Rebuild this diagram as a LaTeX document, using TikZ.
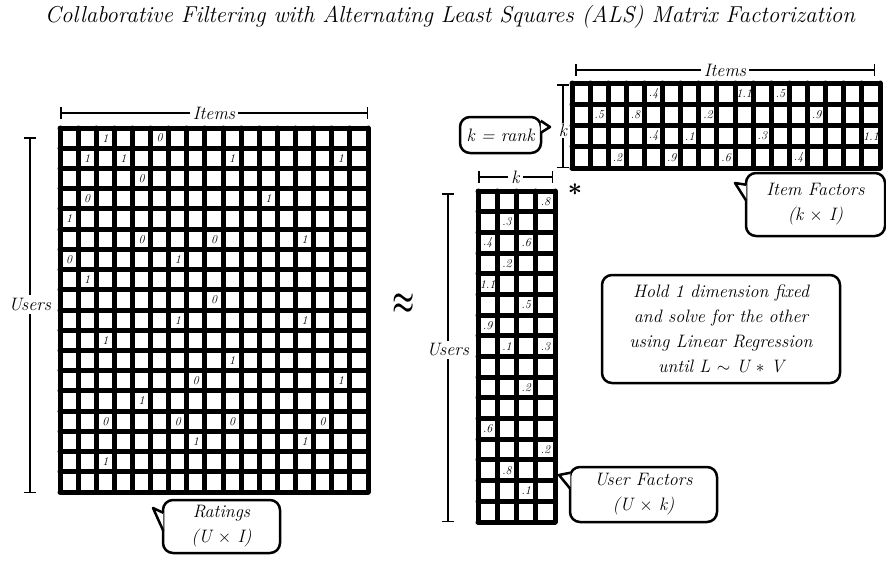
\documentclass[tikz,border=0pt]{standalone}
\usepackage{amsfonts,amssymb,amsmath}
\usepackage{xcolor}
\usepackage{tikz}
\usetikzlibrary{arrows.meta}

\begin{document}
\begin{tikzpicture}[x=1pt,y=-1pt,
  cellline/.style={line width=5pt,line cap=round},
  cellval/.style={inner sep=0pt,font=\fontsize{12}{13}\selectfont\itshape},
  dimline/.style={line width=1.5pt,{Bar[width=12pt]}-{Bar[width=12pt]}},
  dimlabel/.style={fill=white,inner sep=3pt,font=\fontsize{18}{20}\selectfont\itshape},
  note/.style={draw,line width=2.5pt,rounded corners=10pt,fill=white,align=center,inner sep=0pt,font=\fontsize{18}{25}\selectfont\itshape},
  notetip/.style={line width=2.5pt,line join=round,fill=white}]
\useasboundingbox (0,0) rectangle (886,565);
\node[font=\fontsize{23}{26}\selectfont\itshape] (title) at (450,17) {Collaborative Filtering with Alternating Least Squares (ALS) Matrix Factorization};

% ratings matrix (U x I)
\foreach \i in {0,...,17} \draw[cellline] ({60+\i*308/17},128) -- ++(0,364);
\foreach \j in {0,...,18} \draw[cellline] (60,{128+\j*364/18}) -- ++(308,0);
\foreach \r/\c/\v in {1/3/1,1/6/0,2/2/1,2/4/1,2/10/1,2/16/1,3/5/0,4/2/0,4/12/1,5/1/1,
  6/5/0,6/9/0,6/14/1,7/1/0,7/7/1,8/2/1,9/9/0,10/7/1,10/14/1,11/3/1,12/10/1,13/8/0,13/16/1,
  14/5/1,15/3/0,15/7/0,15/10/0,15/15/0,16/8/1,16/14/1,17/3/1}
  \node[cellval] (rt\r-\c) at ({60+(\c-0.5)*308/17},{128+(\r-0.5)*364/18}) {\v};
\draw[dimline] (60,113) -- node[dimlabel] (rtitems) {Items} (368,113);
\draw[dimline] (30,137) -- node[dimlabel,pos=0.47] (rtusers) {Users} (30,493);

\node (approx) at (404,304) {\fontsize{34}{34}\selectfont\scalebox{1}[1.5]{$\boldsymbol{\approx}$}};

% item factors (k x I)
\foreach \i in {0,...,17} \draw[cellline] ({572+\i*308/17},83) -- ++(0,85);
\foreach \j in {0,...,4} \draw[cellline] (572,{83+\j*85/4}) -- ++(308,0);
\foreach \r/\c/\v in {1/5/.4,1/10/1.1,1/12/.5,2/2/.5,2/4/.8,2/8/.2,2/14/.9,
  3/5/.4,3/7/.1,3/11/.3,3/17/1.1,4/3/.2,4/6/.9,4/9/.6,4/13/.4}
  \node[cellval] (if\r-\c) at ({572+(\c-0.5)*308/17},{83+(\r-0.5)*85/4}) {\v};
\draw[dimline] (575,70) -- node[dimlabel] (ifitems) {Items} (875,70);
\draw[dimline] (563,84) -- node[dimlabel,pos=0.55,inner sep=1pt] (ifk) {k} (563,168);

% user factors (U x k)
\foreach \i in {0,...,4} \draw[cellline] ({478+\i*77/4},191) -- ++(0,331);
\foreach \j in {0,...,16} \draw[cellline] (478,{191+\j*331/16}) -- ++(77,0);
\foreach \r/\c/\v in {1/4/.8,2/2/.3,3/1/.4,3/3/.6,4/2/.2,5/1/1.1,6/3/.5,7/1/.9,8/2/.1,8/4/.3,
  10/3/.2,12/1/.6,13/4/.2,14/2/.8,15/3/.1}
  \node[cellval] (uf\r-\c) at ({478+(\c-0.5)*77/4},{191+(\r-0.5)*331/16}) {\v};
\draw[dimline] (478,177) -- node[dimlabel] (ufk) {k} (553,177);
\draw[dimline] (448,193) -- node[dimlabel,pos=0.477] (ufusers) {Users} (448,522);

\node (times) at (575,190) {\fontsize{32}{32}\selectfont$\boldsymbol{\ast}$};

% callouts
\node[note,minimum width=117pt,minimum height=53pt] (ratings) at (221.5,526.5) {Ratings\\(U $\times$ I)};
\draw[notetip] ([xshift=1.5pt,yshift=-14pt]ratings.north west) -- (153,508) -- ([xshift=1.5pt,yshift=-32pt]ratings.north west);
\node[note,minimum width=139pt,minimum height=63pt] (itemf) at (815.5,204.5) {Item Factors\\(k $\times$ I)};
\draw[notetip] ([xshift=1.5pt,yshift=-13pt]itemf.north west) -- (735,183) -- ([xshift=1.5pt,yshift=-29pt]itemf.north west);
\node[note,minimum width=147pt,minimum height=55pt] (userf) at (643.5,494.5) {User Factors\\(U $\times$ k)};
\draw[notetip] ([xshift=1.5pt,yshift=-7pt]userf.north west) -- (559,475) -- ([xshift=1.5pt,yshift=-23pt]userf.north west);
\node[note,minimum width=81pt,minimum height=36pt] (rank) at (500.5,135) {k = rank};
\draw[notetip] ([xshift=-1.5pt,yshift=-5pt]rank.north east) -- (550,127) -- ([xshift=-1.5pt,yshift=-17pt]rank.north east);
\node[note,minimum width=238pt,minimum height=108pt] (hold) at (721,329) {Hold 1 dimension fixed\\and solve for the other\\using Linear Regression\\until L $\sim$ U $\ast$ V};
\end{tikzpicture}
\end{document}
